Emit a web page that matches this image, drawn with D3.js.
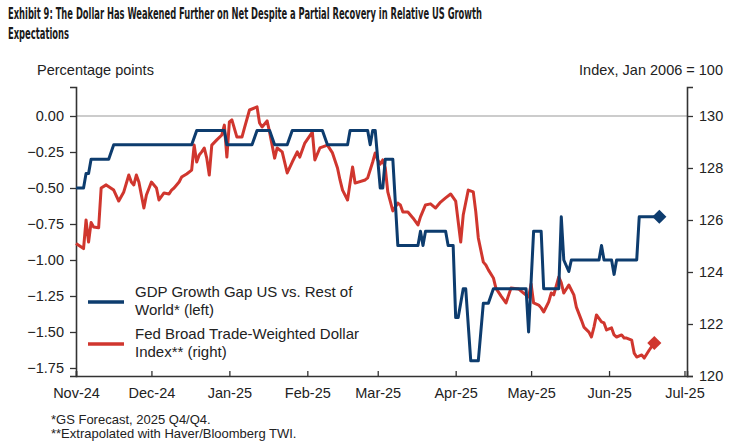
<!DOCTYPE html>
<html>
<head>
<meta charset="utf-8">
<script src="https://cdn.jsdelivr.net/npm/d3@7"></script>
<style>
  body { margin: 0; background: #fff; }
  svg { display: block; }
  text { font-family: "Liberation Sans", Arial, sans-serif; fill: #222; }
</style>
</head>
<body>
<div id="chart"></div>
<script>

// GDP growth gap US vs RoW (left axis, pp)
var gapDates = ["2024-11-01","2024-11-04","2024-11-05","2024-11-06","2024-11-07","2024-11-14","2024-11-16","2024-12-17","2024-12-19","2024-12-30",
  "2024-12-31","2025-01-10","2025-01-12","2025-01-17","2025-01-19","2025-01-24","2025-01-26","2025-02-07","2025-02-09","2025-02-17",
  "2025-02-18","2025-02-25","2025-02-26","2025-02-27","2025-02-28","2025-03-02","2025-03-03","2025-03-04","2025-03-07","2025-03-09",
  "2025-03-17","2025-03-18","2025-03-19","2025-03-20","2025-03-28","2025-03-29","2025-03-31","2025-04-01","2025-04-02","2025-04-04",
  "2025-04-05","2025-04-07","2025-04-10","2025-04-12","2025-04-14","2025-04-16","2025-04-29","2025-04-30","2025-05-02","2025-05-05",
  "2025-05-06","2025-05-12","2025-05-13","2025-05-14","2025-05-16","2025-05-17","2025-05-28","2025-05-29","2025-05-30","2025-06-02",
  "2025-06-03","2025-06-04","2025-06-12","2025-06-13","2025-06-15","2025-06-21"];
var gapValues = [-0.5,-0.5,-0.4,-0.4,-0.3,-0.3,-0.2,-0.2,-0.1,-0.1,
  -0.2,-0.2,-0.1,-0.1,-0.2,-0.2,-0.1,-0.1,-0.2,-0.2,
  -0.1,-0.1,-0.2,-0.1,-0.1,-0.5,-0.5,-0.3,-0.3,-0.9,
  -0.9,-0.8,-0.9,-0.8,-0.8,-0.9,-0.9,-1.4,-1.4,-1.2,
  -1.2,-1.7,-1.7,-1.3,-1.3,-1.2,-1.2,-1.5,-0.8,-0.8,
  -1.2,-1.2,-0.7,-1.0,-1.08,-1.0,-1.0,-0.9,-1.0,-1.0,
  -1.1,-1.0,-1.0,-0.7,-0.7,-0.7];

// Fed broad trade-weighted dollar index (right axis)
var twiDates = ["2024-11-01","2024-11-04","2024-11-05","2024-11-06","2024-11-07","2024-11-08","2024-11-10","2024-11-11","2024-11-13","2024-11-16",
  "2024-11-18","2024-11-20","2024-11-22","2024-11-23","2024-11-24","2024-11-25","2024-11-26","2024-11-28","2024-11-29","2024-12-01",
  "2024-12-03","2024-12-04","2024-12-06","2024-12-08","2024-12-09","2024-12-10","2024-12-12","2024-12-13","2024-12-15","2024-12-17",
  "2024-12-18","2024-12-19","2024-12-20","2024-12-21","2024-12-22","2024-12-23","2024-12-24","2024-12-25","2024-12-27","2024-12-29",
  "2024-12-30","2024-12-31","2025-01-01","2025-01-02","2025-01-04","2025-01-06","2025-01-07","2025-01-09","2025-01-12","2025-01-13",
  "2025-01-14","2025-01-16","2025-01-17","2025-01-18","2025-01-19","2025-01-20","2025-01-22","2025-01-24","2025-01-26","2025-01-28",
  "2025-01-29","2025-01-31","2025-02-03","2025-02-04","2025-02-06","2025-02-09","2025-02-11","2025-02-13","2025-02-14","2025-02-15",
  "2025-02-17","2025-02-18","2025-02-19","2025-02-20","2025-02-24","2025-02-25","2025-02-27","2025-02-28","2025-03-01","2025-03-02",
  "2025-03-03","2025-03-04","2025-03-05","2025-03-07","2025-03-09","2025-03-10","2025-03-11","2025-03-13","2025-03-15","2025-03-17",
  "2025-03-18","2025-03-20","2025-03-22","2025-03-24","2025-03-26","2025-03-28","2025-03-30","2025-04-01","2025-04-03","2025-04-04",
  "2025-04-06","2025-04-08","2025-04-09","2025-04-10","2025-04-12","2025-04-13","2025-04-14","2025-04-16","2025-04-17","2025-04-19",
  "2025-04-21","2025-04-23","2025-04-26","2025-04-28","2025-04-30","2025-05-01","2025-05-02","2025-05-04","2025-05-05","2025-05-06",
  "2025-05-08","2025-05-09","2025-05-10","2025-05-12","2025-05-13","2025-05-14","2025-05-16","2025-05-18","2025-05-19","2025-05-21",
  "2025-05-22","2025-05-24","2025-05-25","2025-05-26","2025-05-27","2025-05-29","2025-05-30","2025-05-31","2025-06-02","2025-06-03",
  "2025-06-04","2025-06-06","2025-06-07","2025-06-08","2025-06-10","2025-06-11","2025-06-12","2025-06-14","2025-06-15","2025-06-17",
  "2025-06-19"];
var twiValues = [125.1,124.9,126.0,125.15,125.9,125.73,125.7,127.23,127.35,127.15,
  126.73,127.08,127.73,127.46,127.35,127.73,127.46,126.46,126.96,127.46,
  127.23,126.77,127.04,127.0,127.15,127.23,127.46,127.65,127.77,127.92,
  128.88,128.23,128.5,128.62,128.77,128.38,127.73,128.88,129.08,129.27,
  129.65,128.42,129.77,129.85,129.19,129.19,129.54,130.23,130.35,129.73,
  129.58,129.81,129.38,128.88,128.38,128.77,128.62,127.81,128.23,128.62,
  128.42,128.96,129.38,128.31,128.77,128.88,128.58,128.0,127.54,127.15,
  126.77,127.42,128.04,127.42,127.54,127.62,128.23,128.58,128.31,128.15,
  128.31,128.0,127.08,126.35,126.65,126.58,126.31,126.31,126.08,125.81,
  126.12,126.58,126.62,126.46,126.69,126.85,127.0,126.73,125.15,126.19,
  127.15,127.08,126.31,125.31,124.38,124.27,124.08,123.77,123.38,123.08,
  122.81,123.38,123.35,123.19,123.04,123.54,122.81,122.73,122.62,122.46,
  122.85,123.19,123.12,123.81,123.58,123.19,123.5,123.12,122.65,122.15,
  121.88,121.69,121.5,121.88,122.35,122.08,122.04,121.77,121.85,121.58,
  121.5,121.58,121.46,121.46,121.38,120.88,120.73,120.81,120.69,121.0,
  121.27];

var leftTicks = [0, -0.25, -0.5, -0.75, -1.0, -1.25, -1.5, -1.75];
var rightTicks = [120, 122, 124, 126, 128, 130];
var monthTicks = ["2024-11-01","2024-12-01","2025-01-01","2025-02-01","2025-03-01","2025-04-01","2025-05-01","2025-06-01","2025-07-01"];

var BLUE = "#0d3c6e", RED = "#d0362e";
var parse = d3.utcParse("%Y-%m-%d");

var svg = d3.select("#chart").append("svg")
    .attr("width", 751).attr("height", 444);

var x = d3.scaleUtc()
    .domain([parse("2024-11-01"), parse("2025-07-02")])
    .range([76, 687]);
var yL = d3.scaleLinear().domain([-1.8056, 0.2014]).range([376, 87]);
var yR = d3.scaleLinear().domain([120, 131.115]).range([376, 87]);

// title
var title = svg.append("g").attr("font-weight", "bold");
title.append("text").attr("x", 8).attr("y", 19)
    .style("font-family", "'Liberation Sans Narrow', 'DejaVu Sans Condensed', sans-serif")
    .style("font-size", "16px").style("fill", "#1a1a1a")
    .attr("textLength", 474).attr("lengthAdjust", "spacingAndGlyphs")
    .text("Exhibit 9: The Dollar Has Weakened Further on Net Despite a Partial Recovery in Relative US Growth");
title.append("text").attr("x", 8).attr("y", 39)
    .style("font-family", "'Liberation Sans Narrow', 'DejaVu Sans Condensed', sans-serif")
    .style("font-size", "16px").style("fill", "#1a1a1a")
    .attr("textLength", 61).attr("lengthAdjust", "spacingAndGlyphs")
    .text("Expectations");

// axis titles
svg.append("text").attr("x", 37).attr("y", 75).style("font-size", "14.5px").text("Percentage points");
svg.append("text").attr("x", 723).attr("y", 75).attr("text-anchor", "end")
    .style("font-size", "14.5px").text("Index, Jan 2006 = 100");

// zero line
svg.append("line")
    .attr("x1", x.range()[0]).attr("x2", x.range()[1])
    .attr("y1", yL(0)).attr("y2", yL(0))
    .attr("stroke", "#999").attr("stroke-width", 1.2);

// axes
var fmtL = function(d) { return d3.format(".2f")(d).replace("-", "\u2212"); };

var axL = svg.append("g").attr("transform", "translate(76,0)")
    .call(d3.axisLeft(yL).tickValues(leftTicks).tickFormat(fmtL).tickSize(6).tickPadding(6));
var axR = svg.append("g").attr("transform", "translate(687,0)")
    .call(d3.axisRight(yR).tickValues(rightTicks).tickSize(6).tickPadding(6));
var axB = svg.append("g").attr("transform", "translate(0,376)")
    .call(d3.axisBottom(x).tickValues(monthTicks.map(parse))
      .tickFormat(d3.utcFormat("%b-%y")).tickSize(-5).tickPadding(10));

[axL, axR, axB].forEach(function(g) {
    g.select(".domain").attr("stroke", "#333").attr("stroke-width", 1.6);
    g.selectAll(".tick line").attr("stroke", "#333").attr("stroke-width", 1.3);
    g.selectAll(".tick text").style("font-size", "14.5px").style("font-family", "'Liberation Sans', Arial, sans-serif").attr("fill", "#222");
});
axB.selectAll(".tick text").attr("dy", "0.71em").attr("y", 12);

// lines
var gapData = gapDates.map(function(d, i) { return { date: parse(d), value: gapValues[i] }; });
var twiData = twiDates.map(function(d, i) { return { date: parse(d), value: twiValues[i] }; });

svg.append("path").datum(twiData)
    .attr("fill", "none").attr("stroke", RED).attr("stroke-width", 3)
    .attr("stroke-linejoin", "round")
    .attr("d", d3.line().x(function(d) { return x(d.date); }).y(function(d) { return yR(d.value); }));

svg.append("path").datum(gapData)
    .attr("fill", "none").attr("stroke", BLUE).attr("stroke-width", 3)
    .attr("stroke-linejoin", "round")
    .attr("d", d3.line().x(function(d) { return x(d.date); }).y(function(d) { return yL(d.value); }));

// end markers
var diamond = d3.symbol().type(d3.symbolSquare).size(100);
var lastGap = gapData[gapData.length - 1], lastTwi = twiData[twiData.length - 1];
svg.append("path").attr("d", diamond())
    .attr("transform", "translate(" + x(lastGap.date) + "," + yL(lastGap.value) + ") rotate(45)")
    .attr("fill", BLUE);
svg.append("path").attr("d", diamond())
    .attr("transform", "translate(" + x(lastTwi.date) + "," + yR(lastTwi.value) + ") rotate(45)")
    .attr("fill", RED);

// legend
var legend = [
    { color: BLUE, lines: ["GDP Growth Gap US vs. Rest of", "World* (left)"], y: 302 },
    { color: RED, lines: ["Fed Broad Trade-Weighted Dollar", "Index** (right)"], y: 344 }
];
var lg = svg.selectAll(".lg").data(legend).enter().append("g").attr("class", "lg");
lg.append("line").attr("x1", 88).attr("x2", 124)
    .attr("y1", function(d) { return d.y; }).attr("y2", function(d) { return d.y; })
    .attr("stroke", function(d) { return d.color; }).attr("stroke-width", 3.5);
lg.each(function(d) {
    var t = d3.select(this).append("text").attr("x", 135).attr("y", d.y - 5).style("font-size", "15px");
    t.selectAll("tspan").data(d.lines).enter().append("tspan")
        .attr("x", 135).attr("dy", function(l, i) { return i ? 18 : 0; })
        .text(function(l) { return l; });
});

// footnotes
svg.append("text").attr("x", 51).attr("y", 424).style("font-size", "13px").text("*GS Forecast, 2025 Q4/Q4.");
svg.append("text").attr("x", 51).attr("y", 438).style("font-size", "13px").text("**Extrapolated with Haver/Bloomberg TWI.");

</script>
</body>
</html>
